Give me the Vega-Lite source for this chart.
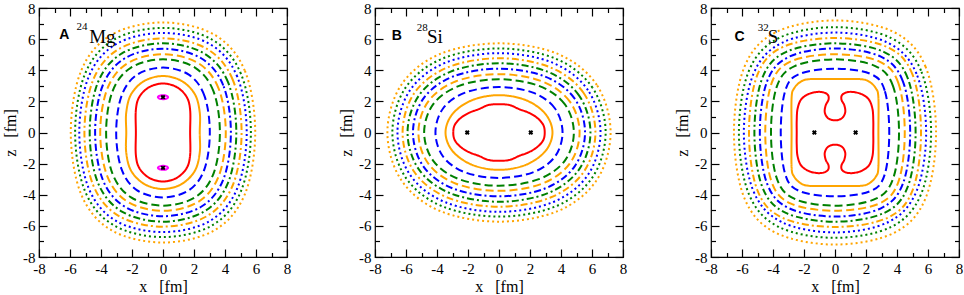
{
"$schema":"https://vega.github.io/schema/vega-lite/v6.json",
"background":"white",
"padding":{"left":1,"top":0,"right":0,"bottom":0},
"spacing":45,
"config":{"view":{"stroke":"#000","strokeWidth":1.2},
"axis":{"labelFont":"Liberation Serif","labelFontSize":15,"labelColor":"#000","titleFont":"Liberation Serif","titleFontSize":16,"titleFontWeight":"normal","titleColor":"#000","tickColor":"#000","tickWidth":1.2,"grid":false,"domain":false,"labelFlush":false,"labelOverlap":false}},
"datasets":{
"mk":[{"p":"A","x":0,"z":2.27},{"p":"A","x":0,"z":-2.27},{"p":"B","x":-2.05,"z":0},{"p":"B","x":2.05,"z":0},{"p":"C","x":-1.33,"z":0},{"p":"C","x":1.33,"z":0}],
"lb":[{"p":"A","t":"L","s":"A","x":-6.7,"z":6.0},{"p":"A","t":"S","s":"24","x":-5.58,"z":6.6},{"p":"A","t":"E","s":"Mg","x":-4.76,"z":5.75},
{"p":"B","t":"L","s":"B","x":-6.92,"z":5.92},{"p":"B","t":"S","s":"28","x":-5.3,"z":6.5},{"p":"B","t":"E","s":"Si","x":-4.65,"z":5.75},
{"p":"C","t":"L","s":"C","x":-6.48,"z":5.9},{"p":"C","t":"S","s":"32","x":-4.98,"z":6.5},{"p":"C","t":"E","s":"S","x":-4.34,"z":5.75}],
"A":[
{"c":"r","i":0,"x":1.75,"z":0},{"c":"r","i":1,"x":1.75,"z":1.45},{"c":"r","i":2,"x":1.52,"z":2.3},{"c":"r","i":3,"x":0.88,"z":2.92},{"c":"r","i":4,"x":0,"z":3.15},{"c":"r","i":5,"x":-0.88,"z":2.92},{"c":"r","i":6,"x":-1.52,"z":2.3},{"c":"r","i":7,"x":-1.75,"z":1.45},{"c":"r","i":8,"x":-1.75,"z":0},{"c":"r","i":9,"x":-1.75,"z":-1.45},{"c":"r","i":10,"x":-1.52,"z":-2.3},{"c":"r","i":11,"x":-0.88,"z":-2.92},{"c":"r","i":12,"x":0,"z":-3.15},{"c":"r","i":13,"x":0.88,"z":-2.92},{"c":"r","i":14,"x":1.52,"z":-2.3},{"c":"r","i":15,"x":1.75,"z":-1.45},
{"c":"o","i":0,"x":2.37,"z":0},{"c":"o","i":1,"x":2.37,"z":1.3},{"c":"o","i":2,"x":2.05,"z":2.47},{"c":"o","i":3,"x":1.19,"z":3.32},{"c":"o","i":4,"x":0,"z":3.63},{"c":"o","i":5,"x":-1.19,"z":3.32},{"c":"o","i":6,"x":-2.05,"z":2.47},{"c":"o","i":7,"x":-2.37,"z":1.3},{"c":"o","i":8,"x":-2.37,"z":0},{"c":"o","i":9,"x":-2.37,"z":-1.3},{"c":"o","i":10,"x":-2.05,"z":-2.47},{"c":"o","i":11,"x":-1.19,"z":-3.32},{"c":"o","i":12,"x":0,"z":-3.63},{"c":"o","i":13,"x":1.19,"z":-3.32},{"c":"o","i":14,"x":2.05,"z":-2.47},{"c":"o","i":15,"x":2.37,"z":-1.3},
{"c":"b1","i":0,"x":3.02,"z":0},{"c":"b1","i":1,"x":2.68,"z":2.34},{"c":"b1","i":2,"x":1.69,"z":3.7},{"c":"b1","i":3,"x":0,"z":4.17},{"c":"b1","i":4,"x":-1.69,"z":3.7},{"c":"b1","i":5,"x":-2.68,"z":2.34},{"c":"b1","i":6,"x":-3.02,"z":0},{"c":"b1","i":7,"x":-2.68,"z":-2.34},{"c":"b1","i":8,"x":-1.69,"z":-3.7},{"c":"b1","i":9,"x":0,"z":-4.17},{"c":"b1","i":10,"x":1.69,"z":-3.7},{"c":"b1","i":11,"x":2.68,"z":-2.34},
{"c":"g1","i":0,"x":3.67,"z":0},{"c":"g1","i":1,"x":3.26,"z":2.64},{"c":"g1","i":2,"x":2.06,"z":4.17},{"c":"g1","i":3,"x":0,"z":4.7},{"c":"g1","i":4,"x":-2.06,"z":4.17},{"c":"g1","i":5,"x":-3.26,"z":2.64},{"c":"g1","i":6,"x":-3.67,"z":0},{"c":"g1","i":7,"x":-3.26,"z":-2.64},{"c":"g1","i":8,"x":-2.06,"z":-4.17},{"c":"g1","i":9,"x":0,"z":-4.7},{"c":"g1","i":10,"x":2.06,"z":-4.17},{"c":"g1","i":11,"x":3.26,"z":-2.64},
{"c":"o1","i":0,"x":4.05,"z":0},{"c":"o1","i":1,"x":3.59,"z":2.82},{"c":"o1","i":2,"x":2.27,"z":4.46},{"c":"o1","i":3,"x":0,"z":5.03},{"c":"o1","i":4,"x":-2.27,"z":4.46},{"c":"o1","i":5,"x":-3.59,"z":2.82},{"c":"o1","i":6,"x":-4.05,"z":0},{"c":"o1","i":7,"x":-3.59,"z":-2.82},{"c":"o1","i":8,"x":-2.27,"z":-4.46},{"c":"o1","i":9,"x":0,"z":-5.03},{"c":"o1","i":10,"x":2.27,"z":-4.46},{"c":"o1","i":11,"x":3.59,"z":-2.82},
{"c":"b2","i":0,"x":4.38,"z":0},{"c":"b2","i":1,"x":3.89,"z":3.02},{"c":"b2","i":2,"x":2.46,"z":4.77},{"c":"b2","i":3,"x":0,"z":5.38},{"c":"b2","i":4,"x":-2.46,"z":4.77},{"c":"b2","i":5,"x":-3.89,"z":3.02},{"c":"b2","i":6,"x":-4.38,"z":0},{"c":"b2","i":7,"x":-3.89,"z":-3.02},{"c":"b2","i":8,"x":-2.46,"z":-4.77},{"c":"b2","i":9,"x":0,"z":-5.38},{"c":"b2","i":10,"x":2.46,"z":-4.77},{"c":"b2","i":11,"x":3.89,"z":-3.02},
{"c":"g2","i":0,"x":4.73,"z":0},{"c":"g2","i":1,"x":4.2,"z":3.22},{"c":"g2","i":2,"x":2.65,"z":5.08},{"c":"g2","i":3,"x":0,"z":5.73},{"c":"g2","i":4,"x":-2.65,"z":5.08},{"c":"g2","i":5,"x":-4.2,"z":3.22},{"c":"g2","i":6,"x":-4.73,"z":0},{"c":"g2","i":7,"x":-4.2,"z":-3.22},{"c":"g2","i":8,"x":-2.65,"z":-5.08},{"c":"g2","i":9,"x":0,"z":-5.73},{"c":"g2","i":10,"x":2.65,"z":-5.08},{"c":"g2","i":11,"x":4.2,"z":-3.22},
{"c":"o2","i":0,"x":5.07,"z":0},{"c":"o2","i":1,"x":4.5,"z":3.39},{"c":"o2","i":2,"x":2.84,"z":5.37},{"c":"o2","i":3,"x":0,"z":6.05},{"c":"o2","i":4,"x":-2.84,"z":5.37},{"c":"o2","i":5,"x":-4.5,"z":3.39},{"c":"o2","i":6,"x":-5.07,"z":0},{"c":"o2","i":7,"x":-4.5,"z":-3.39},{"c":"o2","i":8,"x":-2.84,"z":-5.37},{"c":"o2","i":9,"x":0,"z":-6.05},{"c":"o2","i":10,"x":2.84,"z":-5.37},{"c":"o2","i":11,"x":4.5,"z":-3.39},
{"c":"b3","i":0,"x":5.4,"z":0},{"c":"b3","i":1,"x":4.79,"z":3.59},{"c":"b3","i":2,"x":3.03,"z":5.68},{"c":"b3","i":3,"x":0,"z":6.4},{"c":"b3","i":4,"x":-3.03,"z":5.68},{"c":"b3","i":5,"x":-4.79,"z":3.59},{"c":"b3","i":6,"x":-5.4,"z":0},{"c":"b3","i":7,"x":-4.79,"z":-3.59},{"c":"b3","i":8,"x":-3.03,"z":-5.68},{"c":"b3","i":9,"x":0,"z":-6.4},{"c":"b3","i":10,"x":3.03,"z":-5.68},{"c":"b3","i":11,"x":4.79,"z":-3.59},
{"c":"g3","i":0,"x":5.67,"z":0},{"c":"g3","i":1,"x":5.03,"z":3.77},{"c":"g3","i":2,"x":3.18,"z":5.96},{"c":"g3","i":3,"x":0,"z":6.72},{"c":"g3","i":4,"x":-3.18,"z":5.96},{"c":"g3","i":5,"x":-5.03,"z":3.77},{"c":"g3","i":6,"x":-5.67,"z":0},{"c":"g3","i":7,"x":-5.03,"z":-3.77},{"c":"g3","i":8,"x":-3.18,"z":-5.96},{"c":"g3","i":9,"x":0,"z":-6.72},{"c":"g3","i":10,"x":3.18,"z":-5.96},{"c":"g3","i":11,"x":5.03,"z":-3.77},
{"c":"o3","i":0,"x":5.95,"z":0},{"c":"o3","i":1,"x":5.28,"z":3.97},{"c":"o3","i":2,"x":3.34,"z":6.27},{"c":"o3","i":3,"x":0,"z":7.07},{"c":"o3","i":4,"x":-3.34,"z":6.27},{"c":"o3","i":5,"x":-5.28,"z":3.97},{"c":"o3","i":6,"x":-5.95,"z":0},{"c":"o3","i":7,"x":-5.28,"z":-3.97},{"c":"o3","i":8,"x":-3.34,"z":-6.27},{"c":"o3","i":9,"x":0,"z":-7.07},{"c":"o3","i":10,"x":3.34,"z":-6.27},{"c":"o3","i":11,"x":5.28,"z":-3.97},
{"c":"m1","i":0,"x":0.33,"z":2.27},{"c":"m1","i":1,"x":0.23,"z":2.36},{"c":"m1","i":2,"x":0,"z":2.4},{"c":"m1","i":3,"x":-0.23,"z":2.36},{"c":"m1","i":4,"x":-0.33,"z":2.27},{"c":"m1","i":5,"x":-0.23,"z":2.18},{"c":"m1","i":6,"x":0,"z":2.14},{"c":"m1","i":7,"x":0.23,"z":2.18},
{"c":"m2","i":0,"x":0.33,"z":-2.27},{"c":"m2","i":1,"x":0.23,"z":-2.18},{"c":"m2","i":2,"x":0,"z":-2.14},{"c":"m2","i":3,"x":-0.23,"z":-2.18},{"c":"m2","i":4,"x":-0.33,"z":-2.27},{"c":"m2","i":5,"x":-0.23,"z":-2.36},{"c":"m2","i":6,"x":0,"z":-2.4},{"c":"m2","i":7,"x":0.23,"z":-2.36}
],
"B":[
{"c":"r","i":0,"x":2.95,"z":0},{"c":"r","i":1,"x":2.85,"z":0.5},{"c":"r","i":2,"x":2.45,"z":0.95},{"c":"r","i":3,"x":1.9,"z":1.28},{"c":"r","i":4,"x":1.3,"z":1.5},{"c":"r","i":5,"x":0.7,"z":1.76},{"c":"r","i":6,"x":0,"z":1.82},{"c":"r","i":7,"x":-0.7,"z":1.76},{"c":"r","i":8,"x":-1.3,"z":1.5},{"c":"r","i":9,"x":-1.9,"z":1.28},{"c":"r","i":10,"x":-2.45,"z":0.95},{"c":"r","i":11,"x":-2.85,"z":0.5},{"c":"r","i":12,"x":-2.95,"z":0},{"c":"r","i":13,"x":-2.85,"z":-0.5},{"c":"r","i":14,"x":-2.45,"z":-0.95},{"c":"r","i":15,"x":-1.9,"z":-1.28},{"c":"r","i":16,"x":-1.3,"z":-1.5},{"c":"r","i":17,"x":-0.7,"z":-1.76},{"c":"r","i":18,"x":0,"z":-1.82},{"c":"r","i":19,"x":0.7,"z":-1.76},{"c":"r","i":20,"x":1.3,"z":-1.5},{"c":"r","i":21,"x":1.9,"z":-1.28},{"c":"r","i":22,"x":2.45,"z":-0.95},{"c":"r","i":23,"x":2.85,"z":-0.5},
{"c":"o","i":0,"x":3.45,"z":0},{"c":"o","i":1,"x":2.99,"z":1.2},{"c":"o","i":2,"x":1.73,"z":2.08},{"c":"o","i":3,"x":0,"z":2.4},{"c":"o","i":4,"x":-1.73,"z":2.08},{"c":"o","i":5,"x":-2.99,"z":1.2},{"c":"o","i":6,"x":-3.45,"z":0},{"c":"o","i":7,"x":-2.99,"z":-1.2},{"c":"o","i":8,"x":-1.73,"z":-2.08},{"c":"o","i":9,"x":0,"z":-2.4},{"c":"o","i":10,"x":1.73,"z":-2.08},{"c":"o","i":11,"x":2.99,"z":-1.2},
{"c":"b1","i":0,"x":4.1,"z":0},{"c":"b1","i":1,"x":3.6,"z":1.56},{"c":"b1","i":2,"x":2.19,"z":2.56},{"c":"b1","i":3,"x":0,"z":2.92},{"c":"b1","i":4,"x":-2.19,"z":2.56},{"c":"b1","i":5,"x":-3.6,"z":1.56},{"c":"b1","i":6,"x":-4.1,"z":0},{"c":"b1","i":7,"x":-3.6,"z":-1.56},{"c":"b1","i":8,"x":-2.19,"z":-2.56},{"c":"b1","i":9,"x":0,"z":-2.92},{"c":"b1","i":10,"x":2.19,"z":-2.56},{"c":"b1","i":11,"x":3.6,"z":-1.56},
{"c":"g1","i":0,"x":4.83,"z":0},{"c":"g1","i":1,"x":4.24,"z":1.82},{"c":"g1","i":2,"x":2.57,"z":3.0},{"c":"g1","i":3,"x":0,"z":3.42},{"c":"g1","i":4,"x":-2.57,"z":3.0},{"c":"g1","i":5,"x":-4.24,"z":1.82},{"c":"g1","i":6,"x":-4.83,"z":0},{"c":"g1","i":7,"x":-4.24,"z":-1.82},{"c":"g1","i":8,"x":-2.57,"z":-3.0},{"c":"g1","i":9,"x":0,"z":-3.42},{"c":"g1","i":10,"x":2.57,"z":-3.0},{"c":"g1","i":11,"x":4.24,"z":-1.82},
{"c":"o1","i":0,"x":5.2,"z":0},{"c":"o1","i":1,"x":4.56,"z":2.0},{"c":"o1","i":2,"x":2.77,"z":3.29},{"c":"o1","i":3,"x":0,"z":3.75},{"c":"o1","i":4,"x":-2.77,"z":3.29},{"c":"o1","i":5,"x":-4.56,"z":2.0},{"c":"o1","i":6,"x":-5.2,"z":0},{"c":"o1","i":7,"x":-4.56,"z":-2.0},{"c":"o1","i":8,"x":-2.77,"z":-3.29},{"c":"o1","i":9,"x":0,"z":-3.75},{"c":"o1","i":10,"x":2.77,"z":-3.29},{"c":"o1","i":11,"x":4.56,"z":-2.0},
{"c":"b2","i":0,"x":5.55,"z":0},{"c":"b2","i":1,"x":4.87,"z":2.19},{"c":"b2","i":2,"x":2.96,"z":3.6},{"c":"b2","i":3,"x":0,"z":4.1},{"c":"b2","i":4,"x":-2.96,"z":3.6},{"c":"b2","i":5,"x":-4.87,"z":2.19},{"c":"b2","i":6,"x":-5.55,"z":0},{"c":"b2","i":7,"x":-4.87,"z":-2.19},{"c":"b2","i":8,"x":-2.96,"z":-3.6},{"c":"b2","i":9,"x":0,"z":-4.1},{"c":"b2","i":10,"x":2.96,"z":-3.6},{"c":"b2","i":11,"x":4.87,"z":-2.19},
{"c":"g2","i":0,"x":5.9,"z":0},{"c":"g2","i":1,"x":5.17,"z":2.37},{"c":"g2","i":2,"x":3.15,"z":3.9},{"c":"g2","i":3,"x":0,"z":4.45},{"c":"g2","i":4,"x":-3.15,"z":3.9},{"c":"g2","i":5,"x":-5.17,"z":2.37},{"c":"g2","i":6,"x":-5.9,"z":0},{"c":"g2","i":7,"x":-5.17,"z":-2.37},{"c":"g2","i":8,"x":-3.15,"z":-3.9},{"c":"g2","i":9,"x":0,"z":-4.45},{"c":"g2","i":10,"x":3.15,"z":-3.9},{"c":"g2","i":11,"x":5.17,"z":-2.37},
{"c":"o2","i":0,"x":6.22,"z":0},{"c":"o2","i":1,"x":5.46,"z":2.54},{"c":"o2","i":2,"x":3.32,"z":4.18},{"c":"o2","i":3,"x":0,"z":4.77},{"c":"o2","i":4,"x":-3.32,"z":4.18},{"c":"o2","i":5,"x":-5.46,"z":2.54},{"c":"o2","i":6,"x":-6.22,"z":0},{"c":"o2","i":7,"x":-5.46,"z":-2.54},{"c":"o2","i":8,"x":-3.32,"z":-4.18},{"c":"o2","i":9,"x":0,"z":-4.77},{"c":"o2","i":10,"x":3.32,"z":-4.18},{"c":"o2","i":11,"x":5.46,"z":-2.54},
{"c":"b3","i":0,"x":6.55,"z":0},{"c":"b3","i":1,"x":5.74,"z":2.72},{"c":"b3","i":2,"x":3.49,"z":4.47},{"c":"b3","i":3,"x":0,"z":5.1},{"c":"b3","i":4,"x":-3.49,"z":4.47},{"c":"b3","i":5,"x":-5.74,"z":2.72},{"c":"b3","i":6,"x":-6.55,"z":0},{"c":"b3","i":7,"x":-5.74,"z":-2.72},{"c":"b3","i":8,"x":-3.49,"z":-4.47},{"c":"b3","i":9,"x":0,"z":-5.1},{"c":"b3","i":10,"x":3.49,"z":-4.47},{"c":"b3","i":11,"x":5.74,"z":-2.72},
{"c":"g3","i":0,"x":6.88,"z":0},{"c":"g3","i":1,"x":6.03,"z":2.88},{"c":"g3","i":2,"x":3.67,"z":4.74},{"c":"g3","i":3,"x":0,"z":5.4},{"c":"g3","i":4,"x":-3.67,"z":4.74},{"c":"g3","i":5,"x":-6.03,"z":2.88},{"c":"g3","i":6,"x":-6.88,"z":0},{"c":"g3","i":7,"x":-6.03,"z":-2.88},{"c":"g3","i":8,"x":-3.67,"z":-4.74},{"c":"g3","i":9,"x":0,"z":-5.4},{"c":"g3","i":10,"x":3.67,"z":-4.74},{"c":"g3","i":11,"x":6.03,"z":-2.88},
{"c":"o3","i":0,"x":7.2,"z":0},{"c":"o3","i":1,"x":6.31,"z":3.05},{"c":"o3","i":2,"x":3.84,"z":5.03},{"c":"o3","i":3,"x":0,"z":5.73},{"c":"o3","i":4,"x":-3.84,"z":5.03},{"c":"o3","i":5,"x":-6.31,"z":3.05},{"c":"o3","i":6,"x":-7.2,"z":0},{"c":"o3","i":7,"x":-6.31,"z":-3.05},{"c":"o3","i":8,"x":-3.84,"z":-5.03},{"c":"o3","i":9,"x":0,"z":-5.73},{"c":"o3","i":10,"x":3.84,"z":-5.03},{"c":"o3","i":11,"x":6.31,"z":-3.05}
],
"C":[
{"c":"r","i":0,"x":2.47,"z":0},{"c":"r","i":1,"x":2.47,"z":0.75},{"c":"r","i":2,"x":2.42,"z":1.5},{"c":"r","i":3,"x":2.2,"z":2.1},{"c":"r","i":4,"x":1.75,"z":2.45},{"c":"r","i":5,"x":1.2,"z":2.6},{"c":"r","i":6,"x":0.75,"z":2.58},{"c":"r","i":7,"x":0.45,"z":2.4},{"c":"r","i":8,"x":0.42,"z":2.1},{"c":"r","i":9,"x":0.6,"z":1.75},{"c":"r","i":10,"x":0.66,"z":1.3},{"c":"r","i":11,"x":0.45,"z":0.92},{"c":"r","i":12,"x":0,"z":0.78},
{"c":"r","i":13,"x":-0.45,"z":0.92},{"c":"r","i":14,"x":-0.66,"z":1.3},{"c":"r","i":15,"x":-0.6,"z":1.75},{"c":"r","i":16,"x":-0.42,"z":2.1},{"c":"r","i":17,"x":-0.45,"z":2.4},{"c":"r","i":18,"x":-0.75,"z":2.58},{"c":"r","i":19,"x":-1.2,"z":2.6},{"c":"r","i":20,"x":-1.75,"z":2.45},{"c":"r","i":21,"x":-2.2,"z":2.1},{"c":"r","i":22,"x":-2.42,"z":1.5},{"c":"r","i":23,"x":-2.47,"z":0.75},{"c":"r","i":24,"x":-2.47,"z":0},
{"c":"r","i":25,"x":-2.47,"z":-0.75},{"c":"r","i":26,"x":-2.42,"z":-1.5},{"c":"r","i":27,"x":-2.2,"z":-2.1},{"c":"r","i":28,"x":-1.75,"z":-2.45},{"c":"r","i":29,"x":-1.2,"z":-2.6},{"c":"r","i":30,"x":-0.75,"z":-2.58},{"c":"r","i":31,"x":-0.45,"z":-2.4},{"c":"r","i":32,"x":-0.42,"z":-2.1},{"c":"r","i":33,"x":-0.6,"z":-1.75},{"c":"r","i":34,"x":-0.66,"z":-1.3},{"c":"r","i":35,"x":-0.45,"z":-0.92},{"c":"r","i":36,"x":0,"z":-0.78},
{"c":"r","i":37,"x":0.45,"z":-0.92},{"c":"r","i":38,"x":0.66,"z":-1.3},{"c":"r","i":39,"x":0.6,"z":-1.75},{"c":"r","i":40,"x":0.42,"z":-2.1},{"c":"r","i":41,"x":0.45,"z":-2.4},{"c":"r","i":42,"x":0.75,"z":-2.58},{"c":"r","i":43,"x":1.2,"z":-2.6},{"c":"r","i":44,"x":1.75,"z":-2.45},{"c":"r","i":45,"x":2.2,"z":-2.1},{"c":"r","i":46,"x":2.42,"z":-1.5},{"c":"r","i":47,"x":2.47,"z":-0.75},
{"c":"o","i":0,"x":2.8,"z":0},{"c":"o","i":1,"x":2.8,"z":2.23},{"c":"o","i":2,"x":2.64,"z":2.83},{"c":"o","i":3,"x":2.2,"z":3.27},{"c":"o","i":4,"x":1.6,"z":3.43},{"c":"o","i":5,"x":0,"z":3.43},{"c":"o","i":6,"x":-1.6,"z":3.43},{"c":"o","i":7,"x":-2.2,"z":3.27},{"c":"o","i":8,"x":-2.64,"z":2.83},{"c":"o","i":9,"x":-2.8,"z":2.23},{"c":"o","i":10,"x":-2.8,"z":0},{"c":"o","i":11,"x":-2.8,"z":-2.23},{"c":"o","i":12,"x":-2.64,"z":-2.83},{"c":"o","i":13,"x":-2.2,"z":-3.27},{"c":"o","i":14,"x":-1.6,"z":-3.43},{"c":"o","i":15,"x":0,"z":-3.43},{"c":"o","i":16,"x":1.6,"z":-3.43},{"c":"o","i":17,"x":2.2,"z":-3.27},{"c":"o","i":18,"x":2.64,"z":-2.83},{"c":"o","i":19,"x":2.8,"z":-2.23},
{"c":"b1","i":0,"x":3.5,"z":0},{"c":"b1","i":1,"x":3.21,"z":2.69},{"c":"b1","i":2,"x":2.3,"z":3.76},{"c":"b1","i":3,"x":0,"z":4.1},{"c":"b1","i":4,"x":-2.3,"z":3.76},{"c":"b1","i":5,"x":-3.21,"z":2.69},{"c":"b1","i":6,"x":-3.5,"z":0},{"c":"b1","i":7,"x":-3.21,"z":-2.69},{"c":"b1","i":8,"x":-2.3,"z":-3.76},{"c":"b1","i":9,"x":0,"z":-4.1},{"c":"b1","i":10,"x":2.3,"z":-3.76},{"c":"b1","i":11,"x":3.21,"z":-2.69},
{"c":"g1","i":0,"x":4.13,"z":0},{"c":"g1","i":1,"x":3.75,"z":2.96},{"c":"g1","i":2,"x":2.6,"z":4.27},{"c":"g1","i":3,"x":0,"z":4.7},{"c":"g1","i":4,"x":-2.6,"z":4.27},{"c":"g1","i":5,"x":-3.75,"z":2.96},{"c":"g1","i":6,"x":-4.13,"z":0},{"c":"g1","i":7,"x":-3.75,"z":-2.96},{"c":"g1","i":8,"x":-2.6,"z":-4.27},{"c":"g1","i":9,"x":0,"z":-4.7},{"c":"g1","i":10,"x":2.6,"z":-4.27},{"c":"g1","i":11,"x":3.75,"z":-2.96},
{"c":"o1","i":0,"x":4.5,"z":0},{"c":"o1","i":1,"x":4.09,"z":3.17},{"c":"o1","i":2,"x":2.84,"z":4.57},{"c":"o1","i":3,"x":0,"z":5.03},{"c":"o1","i":4,"x":-2.84,"z":4.57},{"c":"o1","i":5,"x":-4.09,"z":3.17},{"c":"o1","i":6,"x":-4.5,"z":0},{"c":"o1","i":7,"x":-4.09,"z":-3.17},{"c":"o1","i":8,"x":-2.84,"z":-4.57},{"c":"o1","i":9,"x":0,"z":-5.03},{"c":"o1","i":10,"x":2.84,"z":-4.57},{"c":"o1","i":11,"x":4.09,"z":-3.17},
{"c":"b2","i":0,"x":4.85,"z":0},{"c":"b2","i":1,"x":4.38,"z":3.29},{"c":"b2","i":2,"x":2.96,"z":4.87},{"c":"b2","i":3,"x":0,"z":5.4},{"c":"b2","i":4,"x":-2.96,"z":4.87},{"c":"b2","i":5,"x":-4.38,"z":3.29},{"c":"b2","i":6,"x":-4.85,"z":0},{"c":"b2","i":7,"x":-4.38,"z":-3.29},{"c":"b2","i":8,"x":-2.96,"z":-4.87},{"c":"b2","i":9,"x":0,"z":-5.4},{"c":"b2","i":10,"x":2.96,"z":-4.87},{"c":"b2","i":11,"x":4.38,"z":-3.29},
{"c":"g2","i":0,"x":5.2,"z":0},{"c":"g2","i":1,"x":4.69,"z":3.5},{"c":"g2","i":2,"x":3.17,"z":5.17},{"c":"g2","i":3,"x":0,"z":5.73},{"c":"g2","i":4,"x":-3.17,"z":5.17},{"c":"g2","i":5,"x":-4.69,"z":3.5},{"c":"g2","i":6,"x":-5.2,"z":0},{"c":"g2","i":7,"x":-4.69,"z":-3.5},{"c":"g2","i":8,"x":-3.17,"z":-5.17},{"c":"g2","i":9,"x":0,"z":-5.73},{"c":"g2","i":10,"x":3.17,"z":-5.17},{"c":"g2","i":11,"x":4.69,"z":-3.5},
{"c":"o2","i":0,"x":5.55,"z":0},{"c":"o2","i":1,"x":5.01,"z":3.7},{"c":"o2","i":2,"x":3.39,"z":5.48},{"c":"o2","i":3,"x":0,"z":6.07},{"c":"o2","i":4,"x":-3.39,"z":5.48},{"c":"o2","i":5,"x":-5.01,"z":3.7},{"c":"o2","i":6,"x":-5.55,"z":0},{"c":"o2","i":7,"x":-5.01,"z":-3.7},{"c":"o2","i":8,"x":-3.39,"z":-5.48},{"c":"o2","i":9,"x":0,"z":-6.07},{"c":"o2","i":10,"x":3.39,"z":-5.48},{"c":"o2","i":11,"x":5.01,"z":-3.7},
{"c":"b3","i":0,"x":5.88,"z":0},{"c":"b3","i":1,"x":5.26,"z":3.77},{"c":"b3","i":2,"x":3.45,"z":5.75},{"c":"b3","i":3,"x":0,"z":6.42},{"c":"b3","i":4,"x":-3.45,"z":5.75},{"c":"b3","i":5,"x":-5.26,"z":3.77},{"c":"b3","i":6,"x":-5.88,"z":0},{"c":"b3","i":7,"x":-5.26,"z":-3.77},{"c":"b3","i":8,"x":-3.45,"z":-5.75},{"c":"b3","i":9,"x":0,"z":-6.42},{"c":"b3","i":10,"x":3.45,"z":-5.75},{"c":"b3","i":11,"x":5.26,"z":-3.77},
{"c":"g3","i":0,"x":6.2,"z":0},{"c":"g3","i":1,"x":5.55,"z":3.97},{"c":"g3","i":2,"x":3.64,"z":6.06},{"c":"g3","i":3,"x":0,"z":6.77},{"c":"g3","i":4,"x":-3.64,"z":6.06},{"c":"g3","i":5,"x":-5.55,"z":3.97},{"c":"g3","i":6,"x":-6.2,"z":0},{"c":"g3","i":7,"x":-5.55,"z":-3.97},{"c":"g3","i":8,"x":-3.64,"z":-6.06},{"c":"g3","i":9,"x":0,"z":-6.77},{"c":"g3","i":10,"x":3.64,"z":-6.06},{"c":"g3","i":11,"x":5.55,"z":-3.97},
{"c":"o3","i":0,"x":6.52,"z":0},{"c":"o3","i":1,"x":5.84,"z":4.23},{"c":"o3","i":2,"x":3.83,"z":6.44},{"c":"o3","i":3,"x":0,"z":7.2},{"c":"o3","i":4,"x":-3.83,"z":6.44},{"c":"o3","i":5,"x":-5.84,"z":4.23},{"c":"o3","i":6,"x":-6.52,"z":0},{"c":"o3","i":7,"x":-5.84,"z":-4.23},{"c":"o3","i":8,"x":-3.83,"z":-6.44},{"c":"o3","i":9,"x":0,"z":-7.2},{"c":"o3","i":10,"x":3.83,"z":-6.44},{"c":"o3","i":11,"x":5.84,"z":-4.23}
]
},
"hconcat":[
{"width":248,"height":249,"resolve":{"axis":{"x":"independent","y":"independent"}},
"layer":[
{"data":{"name":"A"},"mark":{"type":"line","interpolate":"cardinal-closed","strokeWidth":2},
"encoding":{"x":{"field":"x","type":"quantitative","scale":{"domain":[-8,8],"nice":false,"zero":false},"axis":{"orient":"bottom","values":[-8,-6,-4,-2,0,2,4,6,8],"tickSize":-8,"labelPadding":12,"labelExpr":"'' + datum.value","title":"x\u00a0\u00a0\u00a0[fm]","titlePadding":2,"labelFont":"Liberation Serif","labelFontSize":15,"titleFont":"Liberation Serif","titleFontSize":16}},
"y":{"field":"z","type":"quantitative","scale":{"domain":[-8,8],"nice":false,"zero":false},"axis":{"orient":"left","values":[-8,-6,-4,-2,0,2,4,6,8],"tickSize":-8,"labelPadding":12,"labelExpr":"'' + datum.value","title":"z\u00a0\u00a0\u00a0[fm]","titlePadding":4,"labelFont":"Liberation Serif","labelFontSize":15,"titleFont":"Liberation Serif","titleFontSize":16}},
"color":{"field":"c","type":"nominal","legend":null,"scale":{"domain":["r","o","b1","g1","o1","b2","g2","o2","b3","g3","o3","m1","m2"],"range":["#ff0000","#ffa500","#0000ff","#008000","#ffa500","#0000ff","#008000","#ffa500","#0000ff","#008000","#ffa500","#ff00ff","#ff00ff"]}},
"strokeDash":{"field":"c","type":"nominal","legend":null,"scale":{"domain":["r","o","b1","g1","o1","b2","g2","o2","b3","g3","o3","m1","m2"],"range":[[1,0],[1,0],[8,4],[8,4],[8,4],[7,3,2,3],[7,3,2,3],[7,3,2,3],[2,3],[2,3],[2,3],[1,0],[1,0]]}},
"order":{"field":"i","type":"quantitative"}}},
{"data":{"name":"mk"},"transform":[{"filter":"datum.p === 'A'"}],"mark":{"type":"point","shape":"cross","angle":45,"filled":true,"size":24,"color":"#000","opacity":1},
"encoding":{"x":{"field":"x","type":"quantitative","scale":{"domain":[-8,8],"nice":false,"zero":false},"axis":{"orient":"top","values":[-8,-6,-4,-2,0,2,4,6,8],"tickSize":-8,"labels":false,"title":null}},
"y":{"field":"z","type":"quantitative","scale":{"domain":[-8,8],"nice":false,"zero":false},"axis":{"orient":"right","values":[-8,-6,-4,-2,0,2,4,6,8],"tickSize":-8,"labels":false,"title":null}}}},
{"data":{"name":"lb"},"transform":[{"filter":"datum.p === 'A' && datum.t === 'L'"}],"mark":{"type":"text","font":"Liberation Sans","fontWeight":"bold","fontSize":14,"align":"left","baseline":"alphabetic","color":"#000"},
"encoding":{"x":{"field":"x","type":"quantitative","scale":{"domain":[-8,8],"nice":false,"zero":false},"axis":{"orient":"bottom","values":[-7,-5,-3,-1,1,3,5,7],"tickSize":-4.5,"labels":false,"title":null}},
"y":{"field":"z","type":"quantitative","scale":{"domain":[-8,8],"nice":false,"zero":false},"axis":{"orient":"left","values":[-7,-5,-3,-1,1,3,5,7],"tickSize":-4.5,"labels":false,"title":null}},"text":{"field":"s"}}},
{"data":{"name":"lb"},"transform":[{"filter":"datum.p === 'A' && datum.t === 'S'"}],"mark":{"type":"text","font":"Liberation Serif","fontSize":11,"align":"left","baseline":"alphabetic","color":"#000"},
"encoding":{"x":{"field":"x","type":"quantitative","scale":{"domain":[-8,8],"nice":false,"zero":false},"axis":{"orient":"top","values":[-7,-5,-3,-1,1,3,5,7],"tickSize":-4.5,"labels":false,"title":null}},
"y":{"field":"z","type":"quantitative","scale":{"domain":[-8,8],"nice":false,"zero":false},"axis":{"orient":"right","values":[-7,-5,-3,-1,1,3,5,7],"tickSize":-4.5,"labels":false,"title":null}},"text":{"field":"s"}}},
{"data":{"name":"lb"},"transform":[{"filter":"datum.p === 'A' && datum.t === 'E'"}],"mark":{"type":"text","font":"Liberation Serif","fontSize":19,"align":"left","baseline":"alphabetic","color":"#000"},
"encoding":{"x":{"field":"x","type":"quantitative","scale":{"domain":[-8,8],"nice":false,"zero":false},"axis":null},
"y":{"field":"z","type":"quantitative","scale":{"domain":[-8,8],"nice":false,"zero":false},"axis":null},"text":{"field":"s"}}}
]},
{"width":248,"height":249,"resolve":{"axis":{"x":"independent","y":"independent"}},
"layer":[
{"data":{"name":"B"},"mark":{"type":"line","interpolate":"cardinal-closed","strokeWidth":2},
"encoding":{"x":{"field":"x","type":"quantitative","scale":{"domain":[-8,8],"nice":false,"zero":false},"axis":{"orient":"bottom","values":[-8,-6,-4,-2,0,2,4,6,8],"tickSize":-8,"labelPadding":12,"labelExpr":"'' + datum.value","title":"x\u00a0\u00a0\u00a0[fm]","titlePadding":2,"labelFont":"Liberation Serif","labelFontSize":15,"titleFont":"Liberation Serif","titleFontSize":16}},
"y":{"field":"z","type":"quantitative","scale":{"domain":[-8,8],"nice":false,"zero":false},"axis":{"orient":"left","values":[-8,-6,-4,-2,0,2,4,6,8],"tickSize":-8,"labelPadding":12,"labelExpr":"'' + datum.value","title":"z\u00a0\u00a0\u00a0[fm]","titlePadding":4,"labelFont":"Liberation Serif","labelFontSize":15,"titleFont":"Liberation Serif","titleFontSize":16}},
"color":{"field":"c","type":"nominal","legend":null,"scale":{"domain":["r","o","b1","g1","o1","b2","g2","o2","b3","g3","o3","m1","m2"],"range":["#ff0000","#ffa500","#0000ff","#008000","#ffa500","#0000ff","#008000","#ffa500","#0000ff","#008000","#ffa500","#ff00ff","#ff00ff"]}},
"strokeDash":{"field":"c","type":"nominal","legend":null,"scale":{"domain":["r","o","b1","g1","o1","b2","g2","o2","b3","g3","o3","m1","m2"],"range":[[1,0],[1,0],[8,4],[8,4],[8,4],[7,3,2,3],[7,3,2,3],[7,3,2,3],[2,3],[2,3],[2,3],[1,0],[1,0]]}},
"order":{"field":"i","type":"quantitative"}}},
{"data":{"name":"mk"},"transform":[{"filter":"datum.p === 'B'"}],"mark":{"type":"point","shape":"cross","angle":45,"filled":true,"size":24,"color":"#000","opacity":1},
"encoding":{"x":{"field":"x","type":"quantitative","scale":{"domain":[-8,8],"nice":false,"zero":false},"axis":{"orient":"top","values":[-8,-6,-4,-2,0,2,4,6,8],"tickSize":-8,"labels":false,"title":null}},
"y":{"field":"z","type":"quantitative","scale":{"domain":[-8,8],"nice":false,"zero":false},"axis":{"orient":"right","values":[-8,-6,-4,-2,0,2,4,6,8],"tickSize":-8,"labels":false,"title":null}}}},
{"data":{"name":"lb"},"transform":[{"filter":"datum.p === 'B' && datum.t === 'L'"}],"mark":{"type":"text","font":"Liberation Sans","fontWeight":"bold","fontSize":14,"align":"left","baseline":"alphabetic","color":"#000"},
"encoding":{"x":{"field":"x","type":"quantitative","scale":{"domain":[-8,8],"nice":false,"zero":false},"axis":{"orient":"bottom","values":[-7,-5,-3,-1,1,3,5,7],"tickSize":-4.5,"labels":false,"title":null}},
"y":{"field":"z","type":"quantitative","scale":{"domain":[-8,8],"nice":false,"zero":false},"axis":{"orient":"left","values":[-7,-5,-3,-1,1,3,5,7],"tickSize":-4.5,"labels":false,"title":null}},"text":{"field":"s"}}},
{"data":{"name":"lb"},"transform":[{"filter":"datum.p === 'B' && datum.t === 'S'"}],"mark":{"type":"text","font":"Liberation Serif","fontSize":11,"align":"left","baseline":"alphabetic","color":"#000"},
"encoding":{"x":{"field":"x","type":"quantitative","scale":{"domain":[-8,8],"nice":false,"zero":false},"axis":{"orient":"top","values":[-7,-5,-3,-1,1,3,5,7],"tickSize":-4.5,"labels":false,"title":null}},
"y":{"field":"z","type":"quantitative","scale":{"domain":[-8,8],"nice":false,"zero":false},"axis":{"orient":"right","values":[-7,-5,-3,-1,1,3,5,7],"tickSize":-4.5,"labels":false,"title":null}},"text":{"field":"s"}}},
{"data":{"name":"lb"},"transform":[{"filter":"datum.p === 'B' && datum.t === 'E'"}],"mark":{"type":"text","font":"Liberation Serif","fontSize":19,"align":"left","baseline":"alphabetic","color":"#000"},
"encoding":{"x":{"field":"x","type":"quantitative","scale":{"domain":[-8,8],"nice":false,"zero":false},"axis":null},
"y":{"field":"z","type":"quantitative","scale":{"domain":[-8,8],"nice":false,"zero":false},"axis":null},"text":{"field":"s"}}}
]},
{"width":248,"height":249,"resolve":{"axis":{"x":"independent","y":"independent"}},
"layer":[
{"data":{"name":"C"},"mark":{"type":"line","interpolate":"cardinal-closed","strokeWidth":2},
"encoding":{"x":{"field":"x","type":"quantitative","scale":{"domain":[-8,8],"nice":false,"zero":false},"axis":{"orient":"bottom","values":[-8,-6,-4,-2,0,2,4,6,8],"tickSize":-8,"labelPadding":12,"labelExpr":"'' + datum.value","title":"x\u00a0\u00a0\u00a0[fm]","titlePadding":2,"labelFont":"Liberation Serif","labelFontSize":15,"titleFont":"Liberation Serif","titleFontSize":16}},
"y":{"field":"z","type":"quantitative","scale":{"domain":[-8,8],"nice":false,"zero":false},"axis":{"orient":"left","values":[-8,-6,-4,-2,0,2,4,6,8],"tickSize":-8,"labelPadding":12,"labelExpr":"'' + datum.value","title":"z\u00a0\u00a0\u00a0[fm]","titlePadding":4,"labelFont":"Liberation Serif","labelFontSize":15,"titleFont":"Liberation Serif","titleFontSize":16}},
"color":{"field":"c","type":"nominal","legend":null,"scale":{"domain":["r","o","b1","g1","o1","b2","g2","o2","b3","g3","o3","m1","m2"],"range":["#ff0000","#ffa500","#0000ff","#008000","#ffa500","#0000ff","#008000","#ffa500","#0000ff","#008000","#ffa500","#ff00ff","#ff00ff"]}},
"strokeDash":{"field":"c","type":"nominal","legend":null,"scale":{"domain":["r","o","b1","g1","o1","b2","g2","o2","b3","g3","o3","m1","m2"],"range":[[1,0],[1,0],[8,4],[8,4],[8,4],[7,3,2,3],[7,3,2,3],[7,3,2,3],[2,3],[2,3],[2,3],[1,0],[1,0]]}},
"order":{"field":"i","type":"quantitative"}}},
{"data":{"name":"mk"},"transform":[{"filter":"datum.p === 'C'"}],"mark":{"type":"point","shape":"cross","angle":45,"filled":true,"size":24,"color":"#000","opacity":1},
"encoding":{"x":{"field":"x","type":"quantitative","scale":{"domain":[-8,8],"nice":false,"zero":false},"axis":{"orient":"top","values":[-8,-6,-4,-2,0,2,4,6,8],"tickSize":-8,"labels":false,"title":null}},
"y":{"field":"z","type":"quantitative","scale":{"domain":[-8,8],"nice":false,"zero":false},"axis":{"orient":"right","values":[-8,-6,-4,-2,0,2,4,6,8],"tickSize":-8,"labels":false,"title":null}}}},
{"data":{"name":"lb"},"transform":[{"filter":"datum.p === 'C' && datum.t === 'L'"}],"mark":{"type":"text","font":"Liberation Sans","fontWeight":"bold","fontSize":14,"align":"left","baseline":"alphabetic","color":"#000"},
"encoding":{"x":{"field":"x","type":"quantitative","scale":{"domain":[-8,8],"nice":false,"zero":false},"axis":{"orient":"bottom","values":[-7,-5,-3,-1,1,3,5,7],"tickSize":-4.5,"labels":false,"title":null}},
"y":{"field":"z","type":"quantitative","scale":{"domain":[-8,8],"nice":false,"zero":false},"axis":{"orient":"left","values":[-7,-5,-3,-1,1,3,5,7],"tickSize":-4.5,"labels":false,"title":null}},"text":{"field":"s"}}},
{"data":{"name":"lb"},"transform":[{"filter":"datum.p === 'C' && datum.t === 'S'"}],"mark":{"type":"text","font":"Liberation Serif","fontSize":11,"align":"left","baseline":"alphabetic","color":"#000"},
"encoding":{"x":{"field":"x","type":"quantitative","scale":{"domain":[-8,8],"nice":false,"zero":false},"axis":{"orient":"top","values":[-7,-5,-3,-1,1,3,5,7],"tickSize":-4.5,"labels":false,"title":null}},
"y":{"field":"z","type":"quantitative","scale":{"domain":[-8,8],"nice":false,"zero":false},"axis":{"orient":"right","values":[-7,-5,-3,-1,1,3,5,7],"tickSize":-4.5,"labels":false,"title":null}},"text":{"field":"s"}}},
{"data":{"name":"lb"},"transform":[{"filter":"datum.p === 'C' && datum.t === 'E'"}],"mark":{"type":"text","font":"Liberation Serif","fontSize":19,"align":"left","baseline":"alphabetic","color":"#000"},
"encoding":{"x":{"field":"x","type":"quantitative","scale":{"domain":[-8,8],"nice":false,"zero":false},"axis":null},
"y":{"field":"z","type":"quantitative","scale":{"domain":[-8,8],"nice":false,"zero":false},"axis":null},"text":{"field":"s"}}}
]}
]
}
